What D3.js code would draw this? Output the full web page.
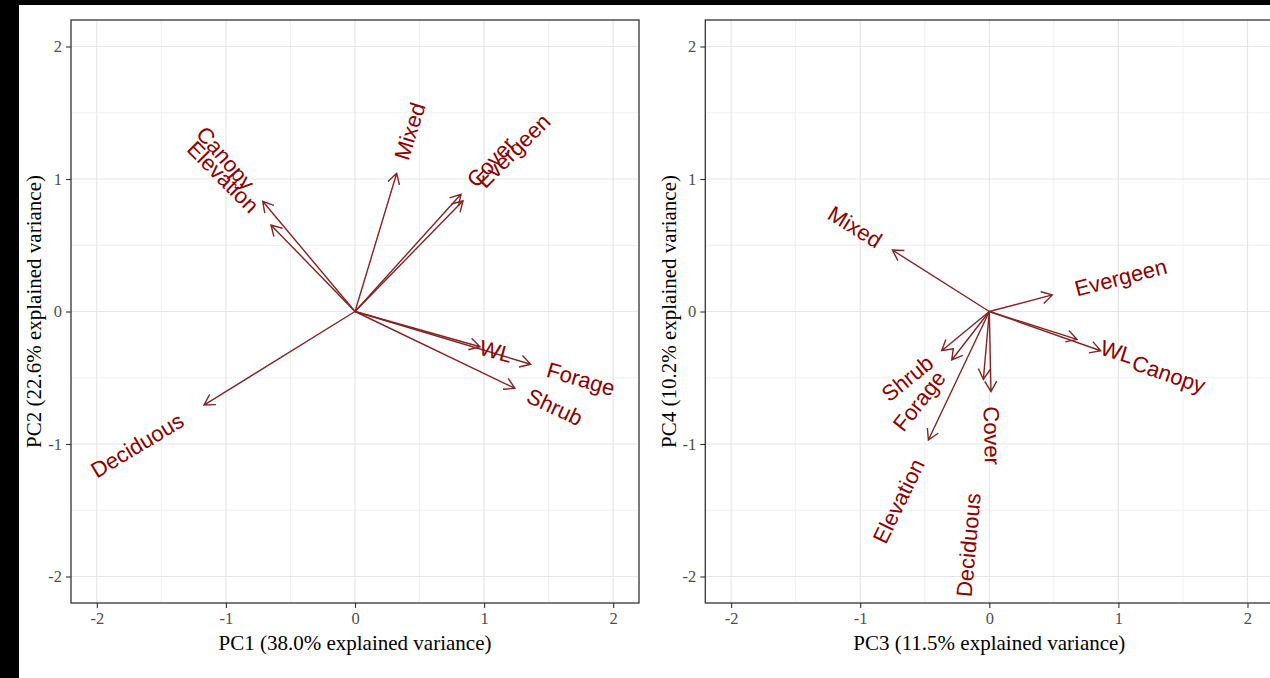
<!DOCTYPE html>
<html>
<head>
<meta charset="utf-8">
<script src="https://cdn.jsdelivr.net/npm/d3@7"></script>
<style>
  body { margin: 0; background: #000; }
  svg { display: block; }
</style>
</head>
<body>
<div id="chart"></div>
<script>
// loadings
const variables = ['Canopy', 'Elevation', 'Mixed', 'Cover', 'Evergeen', 'WL', 'Forage', 'Shrub', 'Deciduous'];
const pc1 = [-0.715, -0.651, 0.323, 0.821, 0.837, 0.968, 1.361, 1.239, -1.170];
const pc2 = [0.832, 0.653, 1.043, 0.885, 0.836, -0.266, -0.398, -0.580, -0.706];
const pc3 = [0.863, -0.472, -0.751, 0.013, 0.488, 0.679, -0.291, -0.369, -0.046];
const pc4 = [-0.296, -0.970, 0.464, -0.605, 0.125, -0.210, -0.366, -0.296, -0.512];

const xTitles = ['PC1 (38.0% explained variance)', 'PC3 (11.5% explained variance)'];
const yTitles = ['PC2 (22.6% explained variance)', 'PC4 (10.2% explained variance)'];
const majorTicks = [-2, -1, 0, 1, 2];
const minorTicks = [-1.5, -0.5, 0.5, 1.5];

const width = 1270;
const height = 678;
const panelW = 568;
const plotTop = 20, plotBottom = 603;
const varnameAdjust = 1.5;

// labels that the original nudged away from the usual ggbiplot spot
const hjustFix = [
    { WL: 0 },
    { WL: -0.77, Canopy: -0.45, Deciduous: 2.1 }
];

const serif = '"Liberation Serif", "Times New Roman", serif';
const sans = '"Liberation Sans", Arial, sans-serif';

const svg = d3.select('#chart')
    .append('svg')
    .attr('width', width)
    .attr('height', height)
    .attr('viewBox', `0,0,${width},${height}`);

svg.append('rect')
    .attr('x', 19)
    .attr('y', 5)
    .attr('width', width - 19)
    .attr('height', height - 5)
    .style('fill', '#fff');

function biplot(left, xs, ys, xTitle, yTitle, fix) {
    const x = d3.scaleLinear().domain([-2.2, 2.2]).range([left, left + panelW]);
    const y = d3.scaleLinear().domain([-2.2, 2.2]).range([plotBottom, plotTop]);

    const g = svg.append('g');

    // grid
    g.selectAll('.vminor').data(minorTicks).join('line')
        .attr('x1', d => x(d)).attr('x2', d => x(d))
        .attr('y1', plotTop).attr('y2', plotBottom)
        .style('stroke', '#f0f0f0').style('stroke-width', 1);
    g.selectAll('.hminor').data(minorTicks).join('line')
        .attr('y1', d => y(d)).attr('y2', d => y(d))
        .attr('x1', left).attr('x2', left + panelW)
        .style('stroke', '#f0f0f0').style('stroke-width', 1);
    g.selectAll('.vmajor').data(majorTicks).join('line')
        .attr('x1', d => x(d)).attr('x2', d => x(d))
        .attr('y1', plotTop).attr('y2', plotBottom)
        .style('stroke', '#e6e6e6').style('stroke-width', 1.2);
    g.selectAll('.hmajor').data(majorTicks).join('line')
        .attr('y1', d => y(d)).attr('y2', d => y(d))
        .attr('x1', left).attr('x2', left + panelW)
        .style('stroke', '#e6e6e6').style('stroke-width', 1.2);

    // axes (R prints a plain hyphen for negatives)
    const fmt = d => String(d);
    const ax = g.append('g')
        .attr('transform', `translate(0,${plotBottom})`)
        .call(d3.axisBottom(x).tickValues(majorTicks).tickSize(5).tickPadding(4).tickFormat(fmt));
    const ay = g.append('g')
        .attr('transform', `translate(${left},0)`)
        .call(d3.axisLeft(y).tickValues(majorTicks).tickSize(5).tickPadding(4).tickFormat(fmt));
    [ax, ay].forEach(a => {
        a.select('.domain').remove();
        a.selectAll('line').style('stroke', '#333').style('stroke-width', 1.1);
        a.selectAll('text')
            .style('font-family', serif)
            .style('font-size', '16.5px')
            .style('fill', '#4d4d4d');
    });

    // border
    g.append('rect')
        .attr('x', left)
        .attr('y', plotTop)
        .attr('width', panelW)
        .attr('height', plotBottom - plotTop)
        .style('fill', 'none')
        .style('stroke', '#333')
        .style('stroke-width', 1.3);

    // titles
    g.append('text')
        .attr('x', left + panelW / 2)
        .attr('y', 643)
        .attr('dy', '0.35em')
        .attr('text-anchor', 'middle')
        .style('font-family', serif)
        .style('font-size', '21px')
        .style('fill', '#000')
        .text(xTitle);
    g.append('text')
        .attr('transform', `translate(${left - 37},${(plotTop + plotBottom) / 2}) rotate(-90)`)
        .attr('dy', '0.35em')
        .attr('text-anchor', 'middle')
        .style('font-family', serif)
        .style('font-size', '21px')
        .style('fill', '#000')
        .text(yTitle);

    const data = variables.map((name, i) => ({ name, vx: xs[i], vy: ys[i] }));

    // arrows
    const head = 12, spread = Math.PI / 6;
    g.selectAll('.arrow').data(data).join('path')
        .attr('d', d => {
            const x0 = x(0), y0 = y(0), x1 = x(d.vx), y1 = y(d.vy);
            const a = Math.atan2(y1 - y0, x1 - x0);
            const h1 = [x1 - head * Math.cos(a - spread), y1 - head * Math.sin(a - spread)];
            const h2 = [x1 - head * Math.cos(a + spread), y1 - head * Math.sin(a + spread)];
            return `M${x0},${y0}L${x1},${y1}M${h1}L${x1},${y1}L${h2}`;
        })
        .style('fill', 'none')
        .style('stroke', '#832424')
        .style('stroke-width', 1.4);

    // variable names
    g.selectAll('.varname').data(data).join('text')
        .attr('transform', d => {
            const angle = Math.atan(d.vy / d.vx) * 180 / Math.PI;
            return `translate(${x(d.vx)},${y(d.vy)}) rotate(${-angle})`;
        })
        .attr('dy', '0.35em')
        .style('font-family', sans)
        .style('font-size', '22px')
        .style('fill', '#8b0000')
        .text(d => d.name)
        .attr('dx', function (d) {
            const w = this.getComputedTextLength();
            const hjust = d.name in fix ? fix[d.name] : (1 - varnameAdjust * Math.sign(d.vx)) / 2;
            return -hjust * w;
        });
}

biplot(71, pc1, pc2, xTitles[0], yTitles[0], hjustFix[0]);
biplot(705.3, pc3, pc4, xTitles[1], yTitles[1], hjustFix[1]);
</script>
</body>
</html>
